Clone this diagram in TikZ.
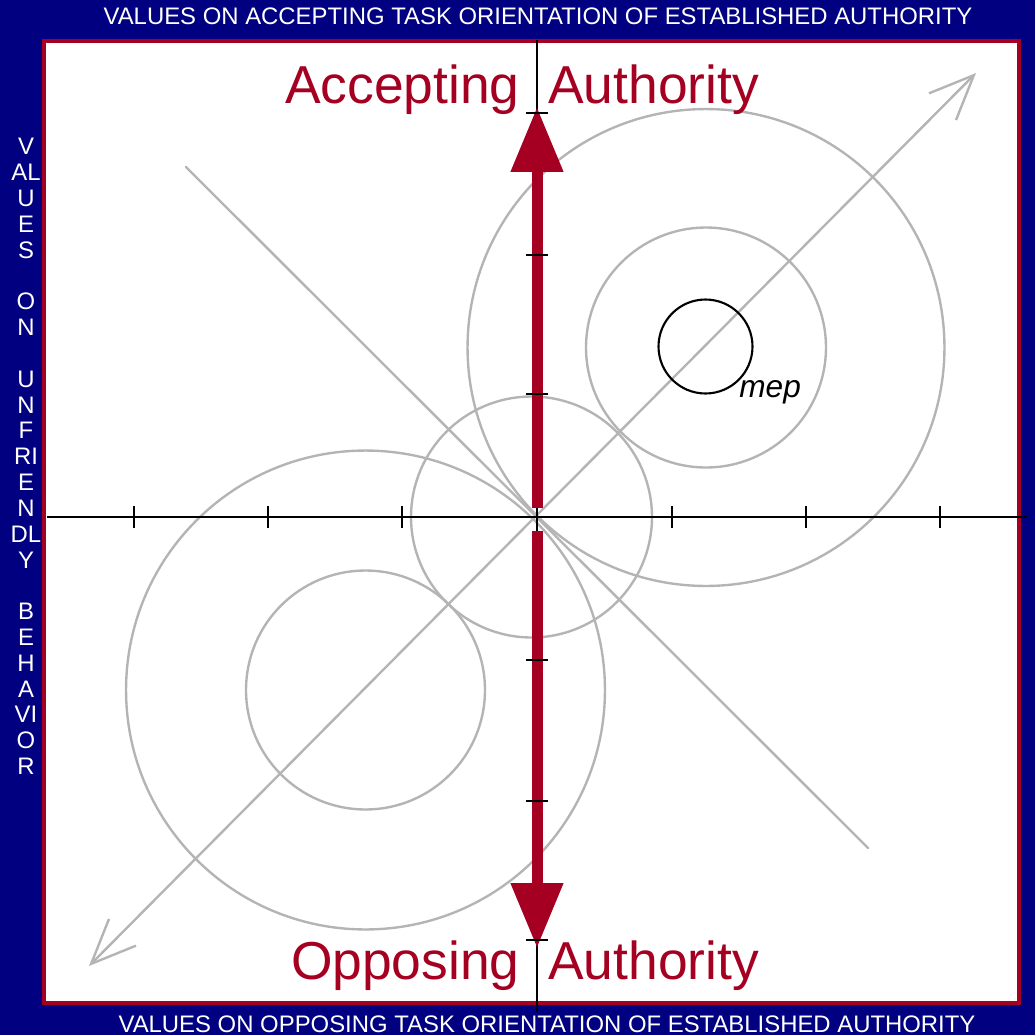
\documentclass[tikz,border=0pt]{standalone}
\usepackage{fontspec}
\setmainfont{Liberation Sans}
\usetikzlibrary{arrows.meta}
\definecolor{marino}{HTML}{000080}
\definecolor{granate}{HTML}{A50021}
\definecolor{grisclaro}{HTML}{B4B4B4}

\begin{document}
\begin{tikzpicture}[x=0.02cm,y=-0.02cm,
      eje/.style={draw=black,line width=1.2pt},
      marca/.style={draw=black,line width=1.5pt},
      circulo/.style={draw=grisclaro,line width=1.35pt},
      diagonal/.style={draw=grisclaro,line width=1.35pt,line cap=round},
      punta/.style={-{Triangle[length=1.3cm,width=1cm]}},
      flecha/.style={punta,draw=granate,line width=0.22cm},
      barba/.style={{Straight Barb[length=0.89cm,width=0.76cm]}-{Straight Barb[length=0.89cm,width=0.76cm]}},
      rotulo/.style={text=white,inner sep=0pt,font=\fontsize{13.6}{14.7}\selectfont},
      grande/.style={text=granate,inner sep=0pt,font=\fontsize{30.4}{34}\selectfont}]
    \useasboundingbox (0,0) rectangle (1035,1035);
    \fill[marino] (0,0) rectangle (1035,1035);
    \draw[granate,line width=0.08cm,fill=white] (44,41) rectangle (1019,1003);
    % puntos de referencia
    \coordinate (O) at (537,517);
    \coordinate (izq) at (47,517);
    \coordinate (der) at (1027,517);
    \coordinate (arr) at (537,40);
    \coordinate (aba) at (537,1012);
    \coordinate (so) at (89,966);
    \coordinate (ne) at (976,73);
    \coordinate (no) at (186,167);
    \coordinate (se) at (868,848);
    \coordinate (cen) at (531.5,517);
    \coordinate (sup) at (706,347.5);
    \coordinate (inf) at (365.5,690);
    % circulos y diagonales
    \draw[circulo] (cen) circle[radius=2.41cm];
    \draw[circulo] (sup) circle[radius=4.77cm];
    \draw[circulo] (sup) circle[radius=2.4cm];
    \draw[circulo] (inf) circle[radius=4.79cm];
    \draw[circulo] (inf) circle[radius=2.39cm];
    \draw[diagonal] (no) -- (se);
    \draw[diagonal,barba] (so) -- (ne);
    \draw[eje] (705.5,346.5) circle[radius=0.94cm];
    \node[font=\fontsize{18}{20}\selectfont\itshape,anchor=base west,inner sep=0pt] (mep) at (739,397) {mep};
    % ejes
    \draw[eje] (izq) -- (der);
    \draw[eje] (arr) -- (aba);
    \draw[flecha] (537,508) -- (537,107);
    \draw[flecha] (537,531) -- (537,948);
    \foreach \x in {134,268,402,672,806,940}
      \draw[marca] (\x,506) -- (\x,528);
    \foreach \y in {113,255,394,660,801,940}
      \draw[marca] (526,\y) -- (548,\y);
    % textos
    \node[grande,anchor=base east] (acepta) at (520,103) {Accepting};
    \node[grande,anchor=base west] (autoridad1) at (548,103) {Authority};
    \node[grande,anchor=base east] (opone) at (520,979) {Opposing};
    \node[grande,anchor=base west] (autoridad2) at (548,979) {Authority};
    \node[rotulo] (arriba) at (538,16) {VALUES ON ACCEPTING TASK ORIENTATION OF ESTABLISHED AUTHORITY};
    \node[rotulo] (abajo) at (547,1024) {VALUES ON OPPOSING TASK ORIENTATION OF ESTABLISHED AUTHORITY};
    \node[rotulo,align=center,anchor=north] (lado) at (26,138)
      {V\\AL\\U\\E\\S\\\mbox{}\\O\\N\\\mbox{}\\U\\N\\F\\RI\\E\\N\\DL\\Y\\\mbox{}\\B\\E\\H\\A\\VI\\O\\R};
  \end{tikzpicture}
\end{document}
